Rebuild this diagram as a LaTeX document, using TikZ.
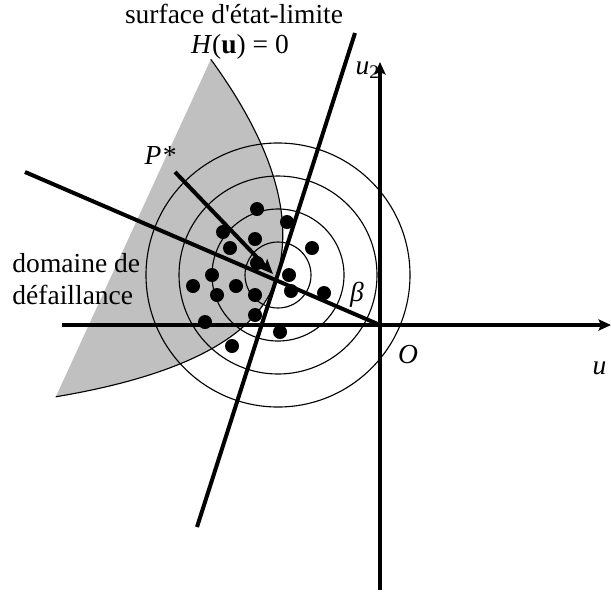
\documentclass[tikz,border=0pt]{standalone}
\usepackage{fontspec}
\setmainfont{Liberation Serif}
\usetikzlibrary{arrows.meta}
\definecolor{failgray}{RGB}{192,192,192}
\begin{document}
\begin{tikzpicture}[x=0.4pt,y=-0.4pt,
  thickline/.style={line width=1.6pt},
  ring/.style={line width=0.45pt},
  dot/.style={fill=black},
  lbl/.style={font=\fontsize{11}{13}\selectfont, inner sep=0pt},
  axis/.style={line width=1.6pt,-{Stealth[length=5pt,width=4.5pt,inset=1pt]}},
  parrow/.style={line width=1.6pt,-{Stealth[length=6pt,width=5pt,inset=1.5pt]}}]
\useasboundingbox (0,0) rectangle (611,594);
% failure domain: parabola-like limit-state surface tangent at P*
\fill[failgray]
  plot[domain=-189.4:0,samples=40] ({276-0.305*\x-0.952*(0.06*\x)*(0.06*\x)},{279+0.952*\x-0.305*(0.06*\x)*(0.06*\x)})
  -- plot[domain=0:179.4,samples=40] ({276-0.305*\x-0.952*(0.07348*\x)*(0.07348*\x)},{279+0.952*\x-0.305*(0.07348*\x)*(0.07348*\x)})
  -- cycle;
\draw[line width=0.45pt]
  plot[domain=-189.4:0,samples=40] ({276-0.305*\x-0.952*(0.06*\x)*(0.06*\x)},{279+0.952*\x-0.305*(0.06*\x)*(0.06*\x)})
  -- plot[domain=0:179.4,samples=40] ({276-0.305*\x-0.952*(0.07348*\x)*(0.07348*\x)},{279+0.952*\x-0.305*(0.07348*\x)*(0.07348*\x)});
% circles
\coordinate (C) at (278,275);
\foreach \r in {33,66,99,132} \draw[ring] (C) circle[radius=\r];
% coordinates
\coordinate (O) at (380,325);
\coordinate (x1s) at (62,325);
\coordinate (x1e) at (611,325);
\coordinate (x2s) at (380,590);
\coordinate (x2e) at (380,62);
\coordinate (bs) at (25,172);
\coordinate (ts) at (355,33);
\coordinate (te) at (197,527);
\coordinate (ps) at (175,172);
\coordinate (pe) at (273,274);
% axes
\draw[axis] (x1s) -- (x1e);
\draw[axis] (x2s) -- (x2e);
% beta line and tangent
\draw[thickline] (bs) -- (O);
\draw[thickline] (ts) -- (te);
% samples
\foreach \x/\y in {257/209,287/222,223/232,255/239,230/248,312/248,257/263,212/275,289/275,193/286,236/286,291/291,217/295,255/295,324/293,255/315,205/322,280/332,232/346}
  \fill[dot] (\x,\y) circle[radius=7];
% P* arrow
\draw[parrow] (ps) -- (pe);
% labels
\node[lbl] (surf) at (234,14) {surface d\textquotesingle état-limite};
\node[lbl] (H) at (240,47) {\textit{H}(\textbf{u}) = 0};
\node[lbl] (P) at (160,155) {\textit{P*}};
\node[lbl,align=left,anchor=west] (dom) at (12,279) {domaine de\\défaillance};
\node[lbl] (beta) at (357,295) {\textit{β}};
\node[lbl] (Olbl) at (408,355) {\textit{O}};
\node[lbl,anchor=west] (u1) at (592,368) {\textit{u}};
\node[lbl] (u2) at (368,70) {\textit{u}\textsubscript{2}};
\end{tikzpicture}
\end{document}
